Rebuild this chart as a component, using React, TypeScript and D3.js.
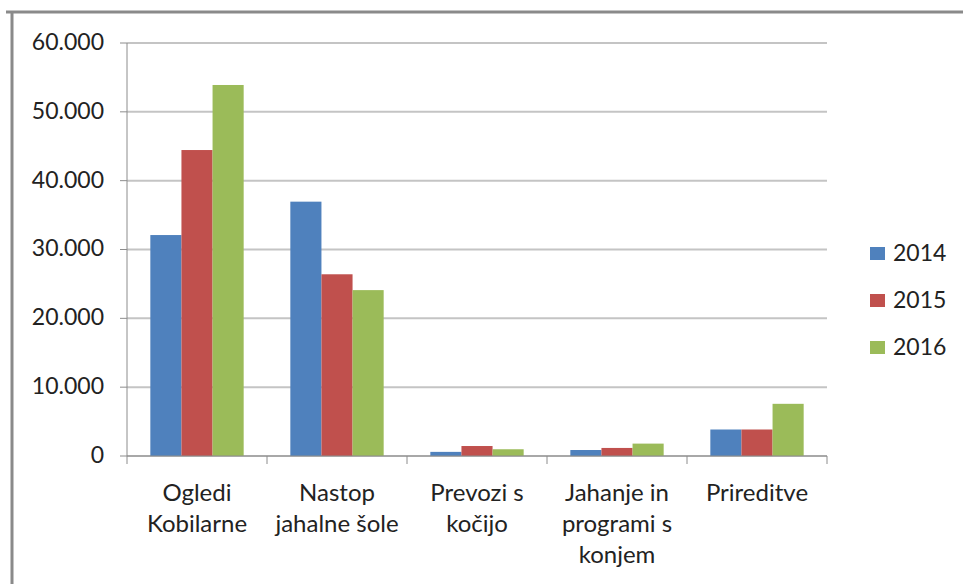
import React from "react";
import * as d3 from "d3";

const categories = [
  ["Ogledi", "Kobilarne"],
  ["Nastop", "jahalne šole"],
  ["Prevozi s", "kočijo"],
  ["Jahanje in", "programi s", "konjem"],
  ["Prireditve"],
];
const seriesNames = ["2014", "2015", "2016"];
const values2014 = [32100, 36950, 600, 870, 3850];
const values2015 = [44450, 26400, 1450, 1170, 3850];
const values2016 = [53900, 24100, 980, 1800, 7580];
const yTicks = [0, 10000, 20000, 30000, 40000, 50000, 60000];
const colors = ["#4f81bd", "#c0504d", "#9bbb59"];

const W = 963;
const H = 584;
const left = 127;
const right = 827;
const top = 43;
const bottom = 456;
const FONT = "Lato, 'Open Sans', sans-serif";

export default function App() {
  const series = [values2014, values2015, values2016];
  const x0 = d3
    .scaleBand<number>()
    .domain(categories.map((_, i) => i))
    .range([left, right])
    .paddingInner(0)
    .paddingOuter(0);
  const bw = x0.bandwidth() / 4.5;
  const y = d3.scaleLinear().domain([0, 60000]).range([bottom, top]);
  const fmt = (v: number) =>
    v === 0 ? "0" : d3.format(",")(v).replace(/,/g, ".");

  return (
    <svg
      width={W}
      height={H}
      style={{ position: "absolute", left: 0, top: 0, background: "#fff" }}
    >
      {/* outer frame */}
      <line x1={6} x2={W} y1={12} y2={12} stroke="#8a8a8a" strokeWidth={3} />
      <line x1={12} x2={12} y1={12} y2={H} stroke="#8a8a8a" strokeWidth={3} />

      {/* gridlines */}
      {yTicks.map((t) => (
        <line
          key={"g" + t}
          x1={left}
          x2={right}
          y1={y(t)}
          y2={y(t)}
          stroke="#c4c4c4"
          strokeWidth={2}
        />
      ))}

      {/* bars */}
      {categories.map((_, ci) =>
        series.map((s, si) => (
          <rect
            key={ci + "-" + si}
            x={(x0(ci) as number) + bw * 0.75 + si * bw}
            y={y(s[ci])}
            width={bw}
            height={bottom - y(s[ci])}
            fill={colors[si]}
          />
        ))
      )}

      {/* y axis */}
      <line x1={left} x2={left} y1={top} y2={bottom} stroke="#8c8c8c" strokeWidth={1} />
      {yTicks.map((t) => (
        <g key={"t" + t}>
          <line x1={120} x2={left} y1={y(t)} y2={y(t)} stroke="#8c8c8c" />
          <text
            x={104}
            y={y(t)}
            dy="0.3em"
            textAnchor="end"
            fontFamily={FONT}
            fontSize={23}
            fill="#222"
          >
            {fmt(t)}
          </text>
        </g>
      ))}

      {/* x axis */}
      <line x1={left} x2={right} y1={bottom} y2={bottom} stroke="#8c8c8c" strokeWidth={1} />
      {d3.range(categories.length + 1).map((i) => {
        const xx = left + i * x0.bandwidth();
        return (
          <line key={"xt" + i} x1={xx} x2={xx} y1={bottom} y2={bottom + 8} stroke="#8c8c8c" />
        );
      })}
      {categories.map((lines, ci) => (
        <text
          key={"c" + ci}
          textAnchor="middle"
          fontFamily={FONT}
          fontSize={24}
          fill="#222"
        >
          {lines.map((l, li) => (
            <tspan
              key={li}
              x={(x0(ci) as number) + x0.bandwidth() / 2}
              y={501 + li * 31}
            >
              {l}
            </tspan>
          ))}
        </text>
      ))}

      {/* legend */}
      {seriesNames.map((n, i) => (
        <g key={"l" + n}>
          <rect x={870} y={247 + i * 47} width={15} height={13} fill={colors[i]} />
          <text
            x={893}
            y={253 + i * 47}
            dy="0.35em"
            fontFamily={FONT}
            fontSize={23}
            fill="#222"
          >
            {n}
          </text>
        </g>
      ))}
    </svg>
  );
}
